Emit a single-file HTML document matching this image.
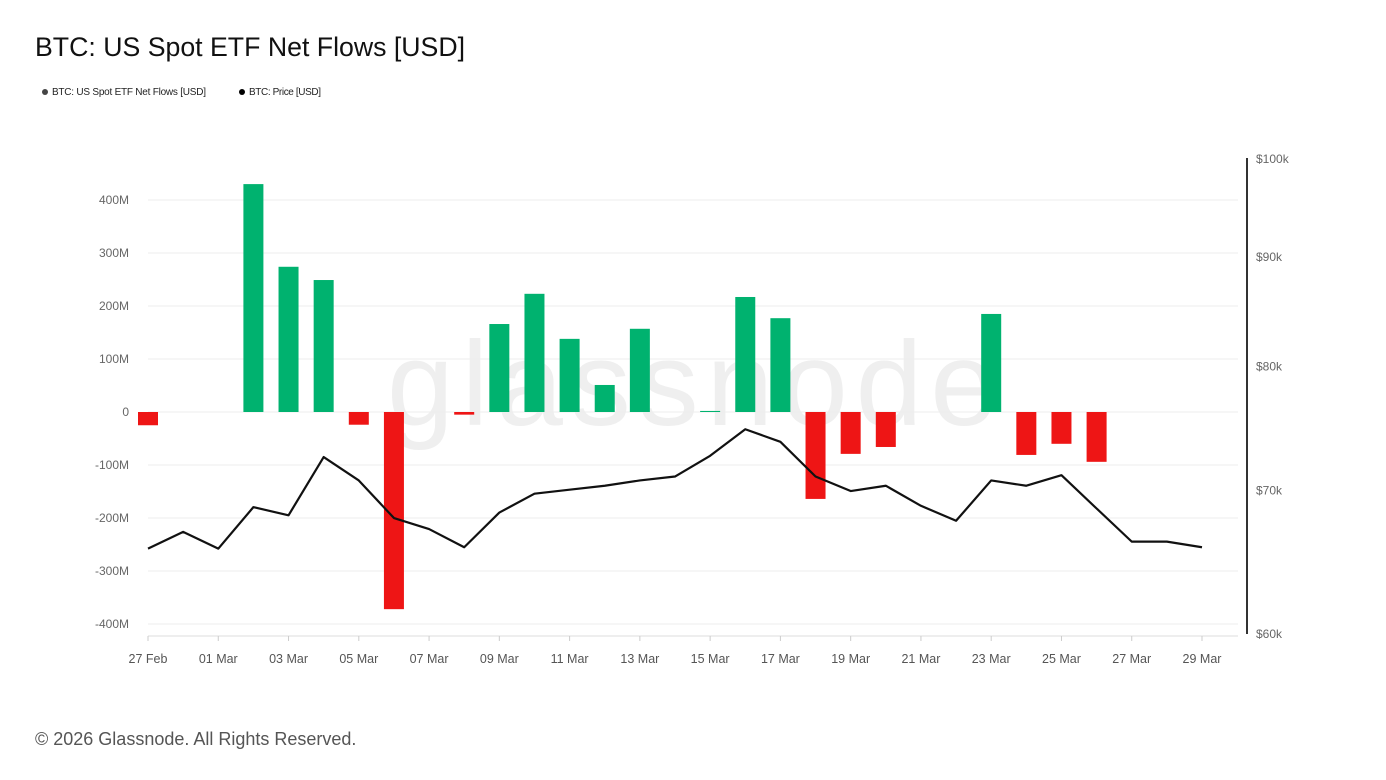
<!DOCTYPE html>
<html><head><meta charset="utf-8"><style>
body{margin:0;background:#fff;font-family:"Liberation Sans",sans-serif;}
#wrap{position:relative;width:1386px;height:780px;overflow:hidden;}
</style></head><body>
<div id="wrap">
<svg id="chart" width="1386" height="780"></svg>
</div>
<script>
const dates=["27 Feb","28 Feb","01 Mar","02 Mar","03 Mar","04 Mar","05 Mar","06 Mar","07 Mar","08 Mar","09 Mar","10 Mar","11 Mar","12 Mar","13 Mar","14 Mar","15 Mar","16 Mar","17 Mar","18 Mar","19 Mar","20 Mar","21 Mar","22 Mar","23 Mar","24 Mar","25 Mar","26 Mar","27 Mar","28 Mar","29 Mar"];
const flows=[-25,0,0,430,274,249,-24,-372,0,-5,166,223,138,51,157,0,2,217,177,-164,-79,-66,0,0,185,-81,-60,-94,null,null,null];
const prices=[65.7,66.9,65.7,68.7,68.1,72.5,70.7,67.9,67.1,65.8,68.3,69.7,70.0,70.3,70.7,71.0,72.6,74.7,73.7,71.0,69.9,70.3,68.8,67.7,70.7,70.3,71.1,68.6,66.2,66.2,65.8];
const leftTicks=[-400,-300,-200,-100,0,100,200,300,400];
const leftLabels=["-400M","-300M","-200M","-100M","0","100M","200M","300M","400M"];
const rightTicks=[60,70,80,90,100];
const rightLabels=["$60k","$70k","$80k","$90k","$100k"];
const NS="http://www.w3.org/2000/svg";
const svg=document.getElementById('chart');
function x(i){return 148+i*(1202-148)/30;}
function yL(v){return 412-v*0.53;}
function yR(p){return 158+930*Math.log(100/p);}
function el(t,a,txt){const e=document.createElementNS(NS,t);for(const k in a)e.setAttribute(k,a[k]);if(txt!=null)e.textContent=txt;svg.appendChild(e);return e;}
let e;
e=el('text',{x:35,y:56,'font-size':26.7,fill:'#111'},'BTC: US Spot ETF Net Flows [USD]');


e=el('circle',{cx:45,cy:92,r:3,fill:'#444'});


e=el('text',{x:52,y:95,'font-size':10,fill:'#222',textLength:154},'BTC: US Spot ETF Net Flows [USD]');


e=el('circle',{cx:242,cy:92,r:3,fill:'#000'});


e=el('text',{x:249,y:95,'font-size':10,fill:'#222',textLength:72},'BTC: Price [USD]');


e=el('text',{x:692,y:425,'font-size':120,fill:'#efefef','text-anchor':'middle',textLength:610},'glassnode');


leftTicks.forEach((v,i)=>{
 const g=el('line',{x1:148,x2:1238,y1:yL(v),y2:yL(v),stroke:'#eee','stroke-width':1});
 
 
 const t=el('text',{x:129,y:yL(v)+4,'font-size':12,fill:'#666','text-anchor':'end'},leftLabels[i]);
 
 
});
e=el('line',{x1:148,x2:1238,y1:636,y2:636,stroke:'#ddd'});


dates.forEach((d,i)=>{if(i%2==0){
 const t=el('text',{x:x(i),y:663,'font-size':12.5,fill:'#555','text-anchor':'middle'},d);
 
 
 const tk=el('line',{x1:x(i),x2:x(i),y1:636,y2:641,stroke:'#ccc'});
 
 
}});
e=el('line',{x1:1247,x2:1247,y1:158,y2:634,stroke:'#333','stroke-width':2});


rightTicks.forEach((v,i)=>{
 const t=el('text',{x:1256,y:yR(v)+5,'font-size':12,fill:'#666'},rightLabels[i]);
 
 
});
flows.forEach((v,i)=>{if(v==null||v==0)return;
 const y0=yL(0),y1=yL(v);
 const b=el('rect',{x:x(i)-10,y:Math.min(y0,y1),width:20,height:Math.max(1,Math.abs(y1-y0)),fill:v>0?'#00b26f':'#ee1515'});
 
 
});
const pts=prices.map((p,i)=>x(i)+','+yR(p)).join(' ');
e=el('polyline',{points:pts,fill:'none',stroke:'#111','stroke-width':2.2,'stroke-linejoin':'round'});


e=el('text',{x:35,y:745,'font-size':18,fill:'#555'},'© 2026 Glassnode. All Rights Reserved.');


</script>
</body></html>
